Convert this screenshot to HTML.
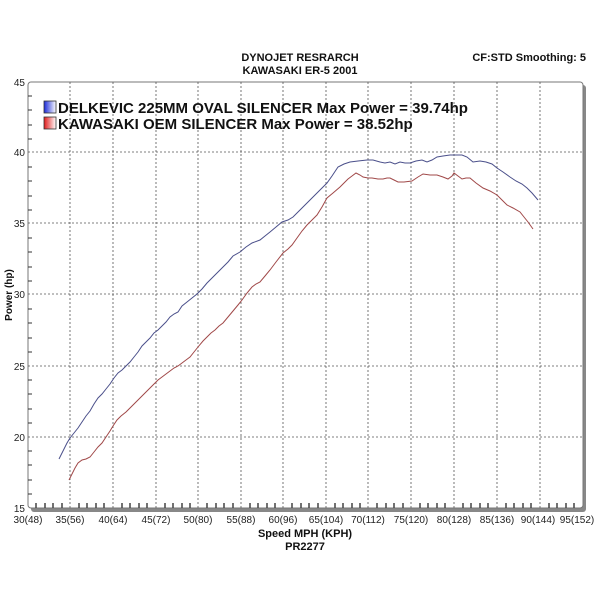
<!DOCTYPE html>
<html><head><meta charset="utf-8"><style>
body{margin:0;background:#fff;}
svg text{font-family:"Liberation Sans",Arial,sans-serif;}
</style></head><body>
<svg width="600" height="600" viewBox="0 0 600 600" xmlns="http://www.w3.org/2000/svg">
<rect width="600" height="600" fill="#fff"/>
<text x="300" y="61" text-anchor="middle" font-size="11" font-weight="bold" fill="#111">DYNOJET RESRARCH</text>
<text x="300" y="74" text-anchor="middle" font-size="11" font-weight="bold" fill="#111">KAWASAKI ER-5 2001</text>
<text x="586" y="61" text-anchor="end" font-size="11" font-weight="bold" fill="#111">CF:STD Smoothing: 5</text>
<rect x="31" y="85" width="555" height="427" rx="3" fill="#888"/>
<rect x="28" y="82" width="555" height="426" rx="3" fill="#fff" stroke="#777" stroke-width="1"/>
<g stroke="#555" stroke-width="0.8" stroke-dasharray="2,2">
<line x1="70" y1="82" x2="70" y2="508"/><line x1="113" y1="82" x2="113" y2="508"/>
<line x1="156" y1="82" x2="156" y2="508"/><line x1="198" y1="82" x2="198" y2="508"/>
<line x1="241" y1="82" x2="241" y2="508"/><line x1="283" y1="82" x2="283" y2="508"/>
<line x1="326" y1="82" x2="326" y2="508"/><line x1="368" y1="82" x2="368" y2="508"/>
<line x1="411" y1="82" x2="411" y2="508"/><line x1="454" y1="82" x2="454" y2="508"/>
<line x1="497" y1="82" x2="497" y2="508"/><line x1="540" y1="82" x2="540" y2="508"/>
<line x1="28" y1="152" x2="583" y2="152"/><line x1="28" y1="223" x2="583" y2="223"/>
<line x1="28" y1="294" x2="583" y2="294"/><line x1="28" y1="366" x2="583" y2="366"/>
<line x1="28" y1="437" x2="583" y2="437"/>
</g>
<g stroke="#333" stroke-width="1">
<path d="M28 96h4M28 110h4M28 125h4M28 139h4M28 167h4M28 181h4M28 196h4M28 210h4M28 238h4M28 252h4M28 267h4M28 281h4M28 309h4M28 323h4M28 338h4M28 352h4M28 380h4M28 394h4M28 409h4M28 423h4M28 451h4M28 465h4M28 480h4M28 494h4"/>
</g>
<g font-size="10" fill="#222" text-anchor="end">
<text x="25" y="86">45</text><text x="25" y="156">40</text><text x="25" y="227">35</text>
<text x="25" y="298">30</text><text x="25" y="370">25</text><text x="25" y="441">20</text><text x="25" y="512">15</text>
</g>
<g font-size="10" fill="#222" text-anchor="middle">
<text x="28" y="523">30(48)</text><text x="70" y="523">35(56)</text><text x="113" y="523">40(64)</text>
<text x="156" y="523">45(72)</text><text x="198" y="523">50(80)</text><text x="241" y="523">55(88)</text>
<text x="283" y="523">60(96)</text><text x="326" y="523">65(104)</text><text x="368" y="523">70(112)</text>
<text x="411" y="523">75(120)</text><text x="454" y="523">80(128)</text><text x="497" y="523">85(136)</text>
<text x="577" y="523">95(152)</text><text x="538" y="523">90(144)</text>
</g>
<text x="305" y="537" text-anchor="middle" font-size="11" font-weight="bold" fill="#111">Speed MPH (KPH)</text>
<text x="305" y="550" text-anchor="middle" font-size="11" font-weight="bold" fill="#111">PR2277</text>
<text transform="translate(12,295) rotate(-90)" text-anchor="middle" font-size="10" font-weight="bold" fill="#111">Power (hp)</text>
<g stroke="#444" stroke-width="1.5">
<path d="M36 503v5M45 503v5M53 503v5M62 503v5M79 503v5M87 503v5M96 503v5M104 503v5M122 503v5M130 503v5M139 503v5M147 503v5M165 503v5M173 503v5M182 503v5M190 503v5M207 503v5M216 503v5M224 503v5M233 503v5M250 503v5M258 503v5M267 503v5M275 503v5M292 503v5M301 503v5M309 503v5M318 503v5M335 503v5M343 503v5M352 503v5M360 503v5M377 503v5M386 503v5M394 503v5M403 503v5M420 503v5M428 503v5M437 503v5M445 503v5M463 503v5M471 503v5M480 503v5M488 503v5M506 503v5M514 503v5M523 503v5M531 503v5M549 503v5M557 503v5M566 503v5M574 503v5"/>
</g>
<defs>
<linearGradient id="gb" x1="0" x2="1"><stop offset="0" stop-color="#1a2ad8"/><stop offset="1" stop-color="#fff"/></linearGradient>
<linearGradient id="gr" x1="0" x2="1"><stop offset="0" stop-color="#e01a1a"/><stop offset="1" stop-color="#fff"/></linearGradient>
</defs>
<rect x="44" y="101" width="12" height="12" fill="url(#gb)" stroke="#333" stroke-width="0.8"/>
<rect x="44" y="117" width="12" height="12" fill="url(#gr)" stroke="#333" stroke-width="0.8"/>
<text x="58" y="113" font-size="15" font-weight="bold" fill="#111">DELKEVIC 225MM OVAL SILENCER Max Power = 39.74hp</text>
<text x="58" y="129" font-size="15" font-weight="bold" fill="#111">KAWASAKI OEM SILENCER Max Power = 38.52hp</text>
<polyline fill="none" stroke="#4a4f8a" stroke-width="1" points="59,459 63,451 67,443 70,438 74,433 78,428 82,422 86,416 90,411 94,404 98,398 102,394 106,389 110,384 114,378 118,373 122,370 126,366 130,362 134,357 138,352 142,346 146,342 150,338 154,333 158,330 162,326 166,322 170,317 174,314 178,312 182,306 187,302 192,298 197,294 202,289 207,283 212,278 217,273 222,268 228,262 233,256 240,252 246,247 252,243 260,240 265,236 270,232 276,227 282,222 288,220 293,217 300,210 307,203 313,197 320,190 327,183 332,176 338,167 344,164 350,162 358,161 367,160 373,160 380,162 385,163 390,162 395,164 400,162 405,163 410,163 416,161 422,160 427,162 432,160 437,157 443,156 450,155 456,155 462,155 467,157 473,162 480,161 486,162 492,164 497,168 503,172 510,177 516,181 522,184 527,188 532,193 538,200"/>
<polyline fill="none" stroke="#a04848" stroke-width="1" points="69,480 72,474 75,468 78,463 82,460 86,459 90,457 94,452 98,447 102,443 106,437 110,431 113,426 117,420 121,416 126,412 130,408 134,404 138,400 142,396 146,392 150,388 154,384 158,380 162,377 166,374 170,371 174,368 178,366 182,363 186,360 190,357 194,352 198,347 203,341 207,337 211,333 215,330 219,326 223,323 228,317 233,311 238,305 242,300 247,293 252,287 256,284 260,282 265,276 270,270 276,262 283,253 288,249 292,245 297,238 302,231 307,225 312,220 317,215 322,207 327,198 333,193 340,187 344,183 348,179 352,176 356,173 360,175 363,177 368,178 372,178 378,179 383,179 387,178 390,178 394,180 398,182 404,182 412,181 418,177 423,174 430,175 437,175 443,177 448,179 452,176 454,173 458,176 462,179 466,178 470,178 476,183 483,188 490,191 497,195 502,200 507,205 513,208 520,212 524,217 528,222 533,229"/>
</svg>
</body></html>
